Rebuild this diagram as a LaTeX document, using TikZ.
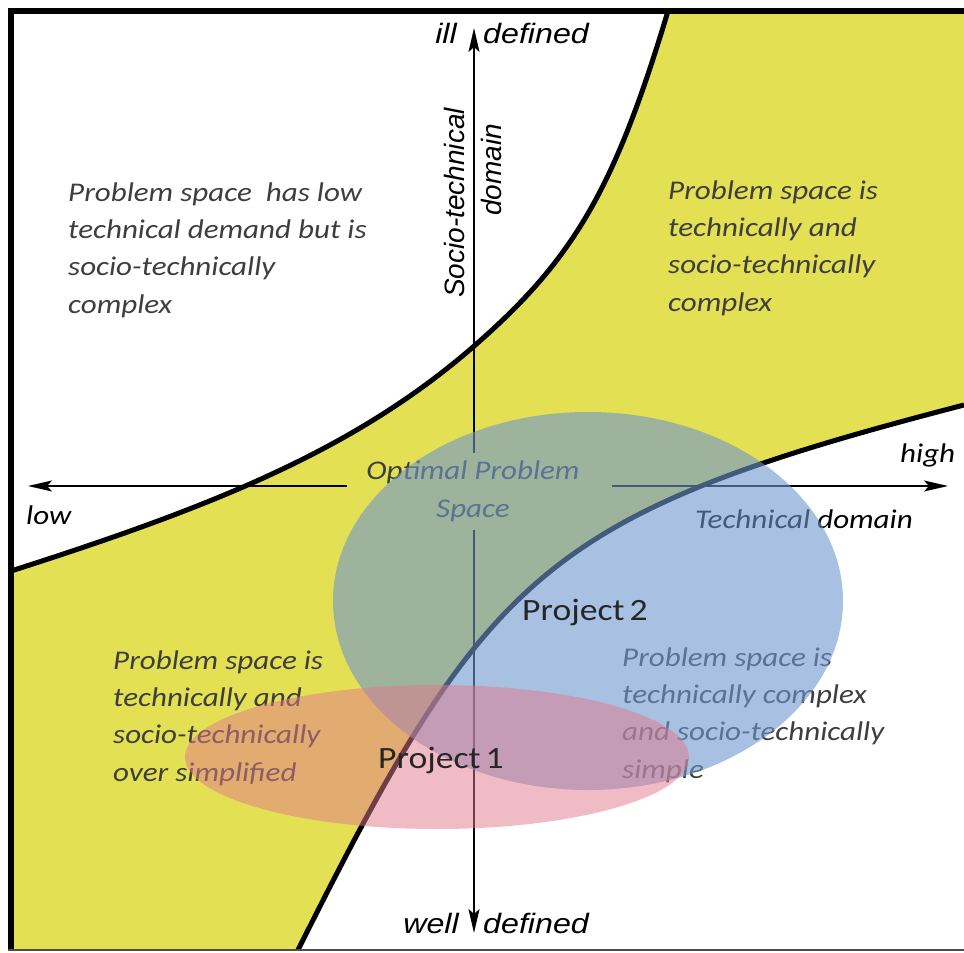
\documentclass[tikz,border=0pt]{standalone}
\usepackage{fontspec}
\usepackage{xcolor}
\usetikzlibrary{arrows.meta}
\newfontfamily\regionfont[FakeStretch=1.15]{Carlito}
\newfontfamily\axisfont[FakeStretch=1.15]{Liberation Sans}
\newfontfamily\rotfont{Liberation Sans}
\definecolor{bandyellow}{RGB}{228,224,84}
\definecolor{projblue}{RGB}{110,150,205}
\definecolor{projpink}{RGB}{225,120,140}
\definecolor{textgray}{RGB}{62,62,62}

\begin{document}
\begin{tikzpicture}[x=1pt,y=-1pt,
    region/.style={font=\regionfont\itshape\fontsize{27}{37.3}\selectfont,text=textgray,align=left,anchor=base west,inner sep=0pt},
    axislabel/.style={font=\axisfont\itshape\fontsize{28}{30}\selectfont,inner sep=0pt},
    rotlabel/.style={font=\rotfont\itshape\fontsize{28}{30}\selectfont,inner sep=0pt,rotate=90},
    boundary/.style={line width=5pt,black},
    axis/.style={line width=1.8pt,-{Stealth[length=24pt,width=11pt,inset=5pt]}},
    project/.style={font=\regionfont\fontsize{31}{31}\selectfont,text=black!85,inner sep=0pt,anchor=base west}]
    \useasboundingbox (0,0) rectangle (964,953);

    %帯状の領域
    \fill[bandyellow] (11,950) -- (11,571) .. controls (211,507) and (353,451) .. (473,347)
        .. controls (573,260) and (614,191) .. (668,11) -- (964,11) -- (964,405)
        .. controls (544,514) and (488,570) .. (298,950) -- cycle;
    \draw[boundary] (11,571) .. controls (211,507) and (353,451) .. (473,347)
        .. controls (573,260) and (614,191) .. (668,11);
    \draw[boundary] (298,950) .. controls (488,570) and (544,514) .. (964,405);

    %枠
    \draw[line width=6pt] (964,11) -- (11,11) -- (11,950);
    \draw[line width=2.5pt,black!70] (8,950) -- (964,950);

    %軸
    \coordinate (illtip) at (474,28);
    \coordinate (welltip) at (474,933);
    \coordinate (lowtip) at (28,486);
    \coordinate (hightip) at (948,486);
    \coordinate (vgaptop) at (474,453);
    \coordinate (vgapbot) at (474,530);
    \coordinate (hgapleft) at (347,486);
    \coordinate (hgapright) at (612,486);
    \draw[axis] (vgaptop) -- (illtip);
    \draw[axis] (vgapbot) -- (welltip);
    \draw[axis] (hgapleft) -- (lowtip);
    \draw[axis] (hgapright) -- (hightip);

    %軸のラベル
    \node[axislabel,anchor=base east] (ill) at (457,43) {ill};
    \node[axislabel,anchor=base west] (illdef) at (483,43) {defined};
    \node[axislabel,anchor=base east] (well) at (459,933) {well};
    \node[axislabel,anchor=base west] (welldef) at (483,933) {defined};
    \node[rotlabel] (socio) at (454,203) {Socio-technical};
    \node[rotlabel] (sociodom) at (491,170) {domain};
    \node[region,text=black] (low) at (26,524) {low};
    \node[region,text=black] (high) at (900,462) {high};
    \node[region,text=black] (techdom) at (695,528) {Technical domain};
    \node[region,align=center,anchor=base] (optimal) at (473,517) {Optimal Problem\\Space};

    %領域の説明 (base = 最後の行)
    \node[region] (lowtech) at (68,313) {Problem space\ \ has low\\technical demand but is\\socio-technically\\complex};
    \node[region] (bothcomplex) at (668,311) {Problem space is\\technically and\\socio-technically\\complex};
    \node[region] (simplified) at (113,781) {Problem space is\\technically and\\socio-technically\\over simplified};
    \node[region] (techcomplex) at (622,778) {Problem space is\\technically complex\\and socio-technically\\simple};

    %プロジェクト
    \fill[projblue,opacity=0.6] (588,601) ellipse [x radius=255,y radius=189];
    \fill[projpink,opacity=0.5] (437,757) ellipse [x radius=252,y radius=72];
    \node[project] (proj2) at (522,620) {Project\,2};
    \node[project] (proj1) at (378,768) {Project\,1};
\end{tikzpicture}
\end{document}
